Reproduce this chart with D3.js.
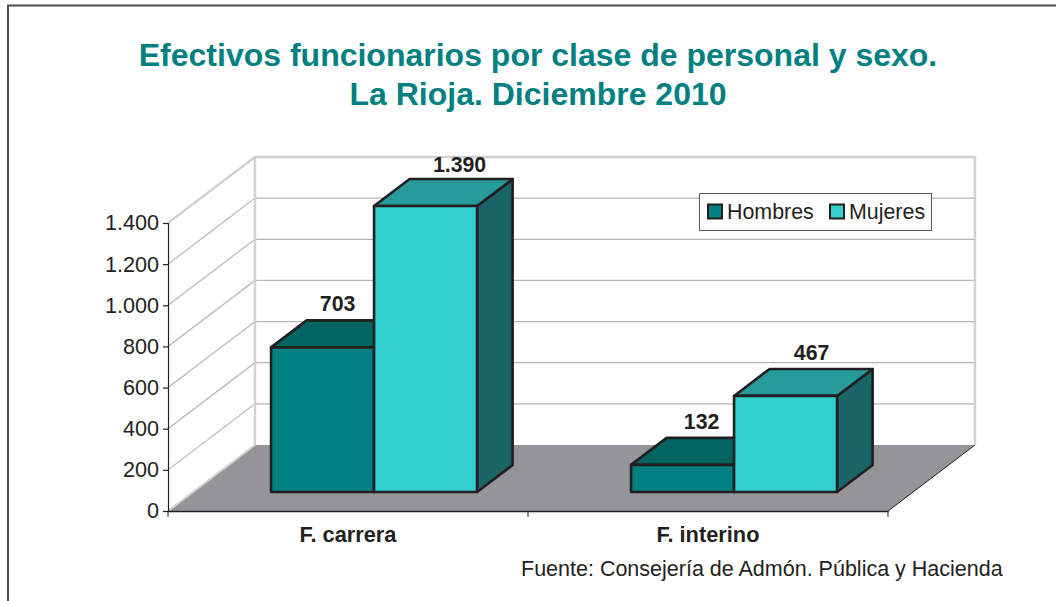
<!DOCTYPE html>
<html><head><meta charset="utf-8">
<script src="https://cdn.jsdelivr.net/npm/d3@7"></script>
<style>html,body{margin:0;padding:0;background:#fff}svg{display:block}text{font-family:"Liberation Sans",Arial,sans-serif;fill:#231f20}</style>
</head><body><svg id="c" width="1056" height="601"></svg>
<script>
const titleLines = ["Efectivos funcionarios por clase de personal y sexo.", "La Rioja. Diciembre 2010"];
const categories = ["F. carrera", "F. interino"];
const seriesNames = ["Hombres", "Mujeres"];
const hombres = [703, 132];
const mujeres = [1390, 467];
const labelTexts = [["703", "132"], ["1.390", "467"]];
const yTicks = [0, 200, 400, 600, 800, 1000, 1200, 1400];
const source = "Fuente: Consejería de Admón. Pública y Hacienda";

const svg = d3.select("#c");
const ink = "#231f20", frontCol = ["#008080", "#33cfcf"], topCol = ["#006460", "#259b9b"], sideCol = ["#005a58", "#1a6666"];
const y = d3.scaleLinear().domain([0, 1400]).range([511, 223]);
const x = d3.scaleBand().domain(categories).range([168, 888]);
const depth = {dx: 87, dy: -66};
const proj = (px, py, d) => [px + depth.dx * d, py + depth.dy * d];
const line = pts => "M" + pts.map(p => p.join(",")).join("L") + "Z";
const open = pts => "M" + pts.map(p => p.join(",")).join("L");

// frame
svg.append("path").attr("d", "M8,601V5.5H1056").attr("fill", "none").attr("stroke", "#4d4d4d").attr("stroke-width", 2);

// title
svg.selectAll(".t").data(titleLines).join("text").attr("x", 538).attr("y", (d, i) => 66 + i * 39)
  .attr("text-anchor", "middle").style("font-size", "32px").style("font-weight", "bold").style("fill", "#008080").text(d => d);

// floor
const x0 = x.range()[0], x1 = x.range()[1];
svg.append("path").attr("d", line([proj(x0, y(0), 0), proj(x1, y(0), 0), proj(x1, y(0), 1), proj(x0, y(0), 1)])).attr("fill", "#939598");

// gridlines on side and back walls
yTicks.slice(1, -1).forEach(v => {
  svg.append("path").attr("d", open([proj(x0, y(v), 0), proj(x0, y(v), 1), proj(x1, y(v), 1)]))
    .attr("fill", "none").attr("stroke", "#b5b6b8").attr("stroke-width", 1.2);
});
// wall edges
svg.append("path").attr("d", open([proj(x0, y(1400), 0), proj(x0, y(1400), 1), proj(x1, y(1400), 1), proj(x1, y(0), 1)]))
  .attr("fill", "none").attr("stroke", "#d1d2d4").attr("stroke-width", 2.5);
svg.append("path").attr("d", open([proj(x0, y(0), 1), proj(x0, y(1400), 1)]))
  .attr("fill", "none").attr("stroke", "#d1d2d4").attr("stroke-width", 2.5);
svg.append("path").attr("d", open([proj(x0, y(0), 0), proj(x0, y(0), 1)]))
  .attr("fill", "none").attr("stroke", "#d1d2d4").attr("stroke-width", 2);
svg.append("path").attr("d", open([proj(x1, y(0), 0), proj(x1, y(0), 1)]))
  .attr("fill", "none").attr("stroke", ink).attr("stroke-width", 1);

// bars
const barW = 103, dNear = 0.288, dFar = 0.697, barShift = 1;
const labelNudge = [[16, 20], [35, 27]];
const labelLift = [[9, 9], [7, 9]];
const baseY = y(0);
[hombres, mujeres].forEach((vals, s) => vals.forEach((v, c) => {
  const bandC = x(categories[c]) + x.bandwidth() / 2 + barShift;
  const l = bandC + (s - 1) * barW, r = l + barW;
  const tY = y(v);
  const g = svg.append("g").attr("stroke", ink).attr("stroke-width", 2.6).attr("stroke-linejoin", "round");
  g.append("path").attr("d", line([proj(r, baseY, dNear), proj(r, baseY, dFar), proj(r, tY, dFar), proj(r, tY, dNear)])).attr("fill", sideCol[s]);
  g.append("path").attr("d", line([proj(l, tY, dNear), proj(r, tY, dNear), proj(r, tY, dFar), proj(l, tY, dFar)])).attr("fill", topCol[s]);
  g.append("path").attr("d", line([proj(l, baseY, dNear), proj(r, baseY, dNear), proj(r, tY, dNear), proj(l, tY, dNear)])).attr("fill", frontCol[s]);
}));
[hombres, mujeres].forEach((vals, s) => vals.forEach((v, c) => {
  const bandC = x(categories[c]) + x.bandwidth() / 2 + barShift;
  const l = bandC + (s - 1) * barW;
  const p = proj(l + barW / 2, y(v), dFar);
  svg.append("text").attr("x", proj(l + barW / 2, 0, dNear)[0] + labelNudge[s][c] - 1).attr("y", p[1] - labelLift[s][c])
    .attr("text-anchor", "middle").style("font-size", "21.3px").style("font-weight", "bold").text(labelTexts[s][c]);
}));

// y axis
const loc = d3.formatLocale({decimal: ",", thousands: ".", grouping: [3], currency: ["", ""]});
const ya = svg.append("g").attr("transform", "translate(168,0)")
  .call(d3.axisLeft(y).tickValues(yTicks).tickFormat(loc.format(",")).tickSize(5).tickPadding(4));
ya.selectAll("text").style("font-size", "21.6px").style("font-family", "'Liberation Sans',Arial,sans-serif").attr("fill", ink);
ya.selectAll("line,path").attr("stroke", ink).attr("stroke-width", 1.2);

// x axis
const xa = svg.append("g").attr("transform", `translate(0,${y(0)})`).call(d3.axisBottom(x).tickSize(0).tickPadding(16));
xa.selectAll("text").style("font-size", "21.8px").style("font-weight", "bold").style("font-family", "'Liberation Sans',Arial,sans-serif").attr("fill", ink);
xa.select("path").attr("stroke", ink).attr("stroke-width", 1.4);
const edges = categories.map(c => x(c)).concat(x1);
svg.selectAll(".xt").data(edges).join("line").attr("x1", d => d).attr("x2", d => d).attr("y1", y(0)).attr("y2", y(0) + 6).attr("stroke", ink).attr("stroke-width", 1);

// legend
const lg = svg.append("g");
lg.append("rect").attr("x", 699.5).attr("y", 193.5).attr("width", 232).attr("height", 37).attr("fill", "#fff").attr("stroke", "#58595b").attr("stroke-width", 1);
[[708, 727], [830, 849]].forEach((p, i) => {
  lg.append("rect").attr("x", p[0]).attr("y", 204.5).attr("width", 14).attr("height", 14).attr("fill", frontCol[i]).attr("stroke", ink).attr("stroke-width", 2);
  lg.append("text").attr("x", p[1]).attr("y", 219).style("font-size", "21.4px").text(seriesNames[i]);
});

// source
svg.append("text").attr("x", 521).attr("y", 576).style("font-size", "21.5px").text(source);
</script></body></html>
